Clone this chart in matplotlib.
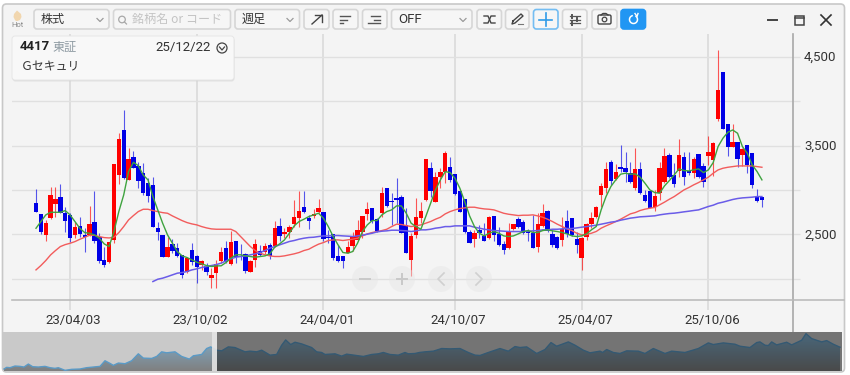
import matplotlib
matplotlib.use("Agg")
import matplotlib.pyplot as plt
import numpy as np
from matplotlib.colors import LinearSegmentedColormap
from matplotlib.patches import Circle, FancyBboxPatch, Rectangle
from matplotlib.transforms import ScaledTranslation

plt.rcParams['font.family'] = ['Roboto', 'Noto Sans CJK JP', 'DejaVu Sans']

# weekly candles, 4417 G-Security
highs = [3009,2728,2664,3031,3031,3069,2806,2739,2645,2694,
         2570,2821,2994,2514,2364,2420,3294,3646,3901,3470,
         3444,3320,3301,3133,3144,2645,2499,2476,2446,2401,
         2270,2251,2409,2270,2214,2176,2120,2214,
         2364,2421,2544,2428,2391,2289,2214,2447,2383,2402,
         2402,2657,2691,2571,2608,2889,2991,2991,2721,2784,
         2901,2758,2552,2507,2383,2259,2421,2533,2664,2709,
         2863,2796,2683,3032,3021,2964,3141,2946,2796,2514,
         2908,2871,3347,3321,3208,3246,3444,3377,3182,2994,
         2901,2552,2552,2608,2634,2709,2709,2589,2421,2634,
         2619,2702,2664,2559,2721,2739,2844,2777,2552,2484,
         2694,2777,2683,2533,2469,2627,2758,2822,
         3078,3321,3340,3295,3509,3434,3314,3471,3318,3002,
         2995,3002,3318,3471,3415,3302,3580,3434,3434,3377,
         3404,3310,3614,3546,4577,4330,3741,3745,3546,3471,
         3509,3415,3010,2927]
lows = [2758,2503,2431,2671,2701,2739,2533,2420,2458,2476,
        2308,2484,2409,2176,2139,2176,2401,3069,3121,3114,
        3245,3020,2945,2870,2581,2439,2244,2244,2296,2251,
        2008,2071,2158,1951,2101,2045,1895,1895,
        2177,2177,2158,2177,2214,2064,2072,2132,2259,2282,
        2222,2357,2421,2458,2458,2589,2589,2739,2563,2683,
        2739,2428,2402,2214,2188,2121,2289,2319,2421,2458,
        2664,2627,2533,2694,2814,2608,2627,2514,2297,2027,
        2458,2627,2882,2927,2871,3021,3077,3096,2946,2758,
        2522,2402,2357,2458,2421,2447,2421,2372,2282,2334,
        2552,2578,2507,2421,2346,2308,2589,2533,2364,2338,
        2372,2477,2484,2289,2102,2439,2571,2683,
        2815,2965,3059,3115,3209,3096,3085,3002,2958,2871,
        2796,2759,2890,3077,3134,3040,3152,3059,3171,3134,
        3134,3032,3284,3160,3779,3685,3385,3482,3265,3276,
        3197,3029,2871,2804]
opens = [2851,2728,2495,2690,2844,2926,2739,2716,2495,2596,
         2495,2495,2645,2476,2214,2195,2439,3170,3676,3114,
         3376,3271,3196,3076,3054,2570,2499,2244,2394,2353,
         2270,2083,2326,2259,2158,2150,2015,2064,
         2203,2353,2169,2428,2259,2282,2072,2214,2319,2308,
         2383,2372,2597,2503,2533,2616,2687,2814,2691,2709,
         2751,2758,2477,2507,2259,2259,2297,2372,2439,2533,
         2732,2796,2672,2739,3021,2878,2916,2927,2608,2214,
         2496,2683,2889,3246,2871,3144,3208,3264,3182,2994,
         2901,2533,2447,2552,2484,2458,2709,2507,2394,2346,
         2559,2672,2638,2544,2522,2364,2597,2766,2507,2469,
         2439,2653,2683,2451,2233,2477,2616,2702,
         2946,3021,3318,3126,3265,3246,3190,3021,3235,2946,
         2991,2815,2972,3089,3392,3171,3216,3374,3216,3190,
         3404,3272,3389,3340,3797,4330,3741,3490,3546,3396,
         3509,3415,2927,2927]
closes = [2758,2533,2634,2941,2896,2739,2656,2458,2589,2506,
          2476,2615,2428,2206,2158,2413,3294,3571,3140,3346,
          3245,3103,2971,2934,2581,2525,2251,2364,2319,2259,
          2038,2240,2195,2139,2203,2083,2038,2169,
          2308,2188,2417,2241,2244,2094,2196,2394,2271,2368,
          2259,2571,2488,2526,2582,2694,2762,2751,2653,2732,
          2796,2447,2458,2233,2196,2203,2357,2484,2552,2709,
          2788,2657,2544,2972,2822,2867,2893,2522,2297,2484,
          2694,2769,3347,2994,3144,3208,3414,3114,2953,2758,
          2533,2409,2514,2514,2432,2702,2496,2383,2327,2541,
          2616,2589,2514,2522,2353,2616,2739,2544,2383,2346,
          2567,2503,2496,2383,2458,2619,2687,2807,
          3051,3235,3104,3209,3239,3201,3089,3235,2972,2882,
          2796,2935,3246,3385,3145,3066,3392,3145,3190,3347,
          3145,3096,3430,3527,4127,3689,3482,3539,3347,3464,
          3284,3059,2879,2890]

# moving averages, one value per week
ma_short = [2570,2645,2720,2750,2750,2750,2769,2720,2645,2570,
            2521,2514,2495,2458,2394,2364,2533,2758,2945,3208,
            3313,3275,3170,3114,2926,2776,2626,2495,2401,2308,
            2259,2240,2214,2188,2169,2150,2139,2146,
            2147,2184,2233,2271,2271,2259,2252,2244,2252,2259,
            2282,2357,2394,2439,2514,2597,2646,2672,2702,2721,
            2739,2683,2589,2477,2383,2297,2289,2308,2402,2533,
            2608,2657,2657,2721,2758,2777,2822,
            2822,2739,2627,2589,2559,2702,2852,3002,3114,3208,
            3197,3133,3021,2871,2709,2589,2514,2484,2514,2533,
            2514,2484,2477,2484,2507,2533,2544,2522,2522,2544,
            2552,2541,2533,2522,2507,2484,2477,2484,2507,2552,
            2590,2777,2927,3040,3115,3179,3190,3179,3182,3145,
            3077,3002,2972,2965,3047,3107,3171,3239,3220,3216,
            3227,3239,3197,3227,3310,3490,3584,3651,3677,3640,
            3490,3415,3284,3209,3115]
ma_mid = [2101,2150,2206,2270,2319,2364,2386,2401,2420,2446,
          2469,2491,2491,2476,2465,2461,2469,2521,2589,2664,
          2713,2758,2784,2784,2769,2758,2746,2739,2709,2683,
          2656,2634,2619,2608,2589,2574,2563,2559,
          2559,2559,2559,2533,2477,2421,2364,2319,2289,2271,
          2259,2252,2252,2259,2271,2282,2297,2319,2334,2364,
          2391,2409,2432,2439,2439,2432,2439,2447,2458,2484,
          2507,2522,2533,2544,2559,2589,2616,
          2612,2601,2589,2597,2608,2627,2646,2672,2694,2732,
          2758,2777,2792,2799,2807,2807,2796,2788,2784,2777,
          2758,2739,2728,2721,2713,2717,2717,2721,2709,2694,
          2672,2646,2616,2589,2563,2544,2514,2496,2500,2514,
          2534,2571,2597,2620,2646,2672,2702,2732,2747,2770,
          2785,2796,2804,2834,2864,2897,2927,2965,3002,3029,
          3059,3085,3115,3145,3190,3227,3246,3257,3265,3272,
          3272,3272,3272,3265,3257]
ma_long_start = 24  # the long average only begins at this week
ma_long = [1970,1996,2008,2026,2045,2064,2071,2083,2101,2113,
           2128,2139,2150,2161,
           2177,2203,2226,2244,2252,2259,2271,2282,2297,2319,
           2346,2364,2383,2402,2421,2432,2447,2458,2466,2469,
           2477,2484,2484,2488,2488,2484,2481,2477,2484,2492,
           2503,2514,2529,2537,2541,2548,2548,
           2544,2541,2533,2541,2552,2552,2559,2571,2578,2589,
           2589,2597,2597,2597,2597,2582,2571,2559,2552,2544,
           2541,2537,2533,2533,2533,2533,2537,2541,2544,2552,
           2552,2559,2559,2563,2567,2567,2574,2582,2589,2597,
           2605,2616,2627,2639,2646,2661,2672,2684,2691,2699,
           2702,2706,2710,2721,2729,2736,2740,2747,2755,2762,
           2770,2777,2796,2815,2830,2852,2864,2879,2894,2905,
           2912,2916,2920,2927,2927]

tick_weeks = [7, 33, 59, 86, 112, 138]
tick_labels = ['23/04/03', '23/10/02', '24/04/01', '24/10/07', '25/04/07', '25/10/06']
price_grid = [2000, 2500, 3000, 3500, 4000, 4500]
price_labels = ['', '2,500', '', '3,500', '', '4,500']

# navigator strip at the bottom, long history of the close
nav_t = [12,20,30,45,60,72,85,98,115,135,150,165,175,195,215,240,260,280,300,315,
         330,340,355,375,395,415,430,455,470,485,500,525,545,568,580,605,620,632,650,665,
         685,705,735,750,770,785,810,830,845,857,872,885,905,935,950,965,975,1005,1025,1040,
         1070,1090,1115,1135,1150,1170,1195,1215,1225,1245,1258,
         1275,1300,1325,1350,1380,1405,1425,1440,1465,1500,1525,1545,1560,1580,1610,1635,1653,1670,1705,1725,
         1750,1770,1800,1808,1820,1840,1860,1880,1915,1935,1960,1995,2015,2055,2095,2125,2140,2170,2205,2220,
         2250,2270,2280,2295,2305,2315,2330,2360,2375,2405,2418,2435,2450,2465,2480,2500,2520]
nav_v = [6,11,10,15,14,12,21,13,12,14,10,8,10,2,5,6,10,12,14,31,
         23,17,24,22,31,52,39,38,44,58,55,58,44,36,46,50,68,73,63,61,
         73,71,58,60,58,63,48,50,78,94,80,87,82,71,58,56,50,52,45,51,
         47,44,50,52,56,50,48,56,52,53,56,
         58,60,68,67,68,56,48,47,56,68,60,74,71,73,53,65,86,75,88,78,
         63,55,60,56,65,56,53,61,60,53,68,53,60,56,68,85,80,85,81,75,
         71,86,88,78,77,88,79,87,79,93,113,98,93,88,92,81,72]

fig = plt.figure(figsize=(8.5, 3.75), dpi=100, facecolor='white')


def axes_px(x0, y0, x1, y1, **kw):
    return fig.add_axes([x0 / 850, 1 - y1 / 375, (x1 - x0) / 850, (y1 - y0) / 375], **kw)


def ui_axes(z):
    a = axes_px(0, 0, 850, 375, zorder=z)
    a.set_xlim(0, 850)
    a.set_ylim(375, 0)
    a.axis('off')
    return a


def button(a, x0, x1, edge='#d6d6d6', face='#f6f6f6', y0=9.5, y1=29, lw=1.2):
    a.add_patch(FancyBboxPatch((x0, y0), x1 - x0, y1 - y0, boxstyle='round,pad=0,rounding_size=3',
                               fc=face, ec=edge, lw=lw))


def chevron(a, x, y=20):
    a.plot([x - 3, x, x + 3], [y - 1.5, y + 1.5, y - 1.5], color='#9a9a9a', lw=0.9)


# window frame
bg = ui_axes(0)
bg.add_patch(FancyBboxPatch((2.5, 4), 842, 368, boxstyle='round,pad=0,rounding_size=4',
                            fc='#f4f4f4', ec='#c8c8c8', lw=1.2))
# the axis lines run on past the plot area
bg.plot([793, 844], [300, 300], color='#bcbcbc', lw=1.2)
bg.plot([793, 793], [300, 332], color='#a8a8a8', lw=1.2)

# price chart
weeks = np.arange(len(closes))
ax = axes_px(12, 34, 793, 300, zorder=1)
ax.patch.set_alpha(0)
ax.set_xlim(-4.926, 155.38)
ax.set_ylim(1762, 4758)
for s in ['top', 'left']:
    ax.spines[s].set_visible(False)
ax.spines['bottom'].set_color('#bcbcbc')
ax.spines['bottom'].set_linewidth(1.2)
ax.spines['right'].set_color('#a8a8a8')
ax.spines['right'].set_linewidth(1.2)

ax.set_axisbelow(True)
ax.grid(True, axis='y', color='#e0e0e0', lw=1.0)
ax.grid(True, axis='x', color='#d8d8d8', lw=1.1)
ax.set_xticks(tick_weeks)
ax.set_xticklabels(tick_labels, fontsize=9.5, color='#333333')
ax.set_yticks(price_grid)
ax.yaxis.tick_right()
ax.set_yticklabels(price_labels, fontsize=9.5, color='#333333')
ax.tick_params(axis='x', length=7, width=1.1, color='#d8d8d8', pad=3)
ax.tick_params(axis='y', length=5, width=1.0, color='#e0e0e0', pad=3)
shift = ScaledTranslation(3.5 / 100, 0, fig.dpi_scale_trans)
for lab in ax.get_xticklabels():
    lab.set_transform(lab.get_transform() + shift)
shift_y = ScaledTranslation(0, 1 / 100, fig.dpi_scale_trans)
for lab in ax.get_yticklabels():
    lab.set_transform(lab.get_transform() + shift_y)

up = np.array(closes) >= np.array(opens)
colors = np.where(up, '#ff0000', '#0000e6')
body_low = np.minimum(opens, closes)
body_h = np.abs(np.array(closes) - np.array(opens))
ax.vlines(weeks, lows, highs, colors=colors, lw=0.8, alpha=0.65, zorder=3)
ax.bar(weeks, body_h, bottom=body_low, width=0.9, color=colors, lw=0, zorder=4)

ax.plot(weeks, ma_mid, color='#f25c5c', lw=1.0, zorder=5)
ax.plot(weeks[ma_long_start:], ma_long, color='#6a5ce8', lw=1.1, zorder=5)
ax.plot(weeks, ma_short, color='#3fa33f', lw=1.0, zorder=6)

# navigator
nav = axes_px(3, 332, 842, 371, zorder=1)
nav.set_xlim(9, 2526)
nav.set_ylim(0, 118)
nav.axis('off')
nav.add_patch(Rectangle((9, 0), 2517, 118, fc='#c9c9c9', ec='none', zorder=0))
grad_cmap = LinearSegmentedColormap.from_list('nav', ['#808080', '#7fb2d4'])
poly = nav.fill_between(nav_t, nav_v, 0, color='none')
img = nav.imshow(np.linspace(0, 1, 64).reshape(-1, 1), cmap=grad_cmap, origin='lower', aspect='auto',
                 extent=(9, 2526, 0, 113), zorder=1)
img.set_clip_path(poly.get_paths()[0], transform=nav.transData)
nav.set_xlim(9, 2526)
nav.set_ylim(0, 118)
nav.plot(nav_t, nav_v, color='#5a9ac6', lw=1.0, zorder=2)
nav.add_patch(Rectangle((651, 0), 1875, 118, fc='black', alpha=0.42, ec='none', zorder=3))
nav.add_patch(Rectangle((636, 0), 15, 118, fc='#e4e4e4', alpha=0.9, ec='none', zorder=3))

# toolbar and overlays
ui = ui_axes(3)
jp = ['Noto Sans CJK JP', 'DejaVu Sans']

ui.fill([17, 14, 13.5, 15, 16, 17.5, 20, 21.5, 21, 17], [10.5, 14, 17, 20, 21, 21, 20, 17, 14, 10.5],
        color='#f1d6ae', lw=0)
ui.text(17.5, 25, 'Hot', fontsize=5.5, color='#8a8a8a', ha='center', va='center')

button(ui, 34, 109)
ui.text(41, 19, '株式', fontsize=8.7, family=jp, color='#333333', va='center')
chevron(ui, 100)
button(ui, 113.5, 230.5)
ui.add_patch(Circle((122, 19.5), 3.3, fc='none', ec='#a8a8a8', lw=0.9))
ui.plot([124.5, 126.5], [22, 24], color='#a8a8a8', lw=0.9)
ui.text(132, 19, '銘柄名 or コード', fontsize=8.7, family=jp, color='#c4c4c4', va='center')
button(ui, 235, 299.5)
ui.text(242, 19, '週足', fontsize=8.7, family=jp, color='#333333', va='center')
chevron(ui, 290)

button(ui, 304, 329)
ui.plot([312, 322], [24, 15], color='#444444', lw=1.0)
ui.plot([315, 322, 322], [15, 15, 22], color='#444444', lw=1.0)
button(ui, 333, 358)
for x1, y in [(347, 16), (344, 19.5), (340, 23)]:
    ui.plot([340, x1 + 3], [y, y], color='#555555', lw=1.0)
button(ui, 362.5, 387)
for x0, y in [(371, 16), (374, 19.5), (368, 23)]:
    ui.plot([x0, 380], [y, y], color='#555555', lw=1.0)

button(ui, 391.5, 472)
ui.text(398, 19.5, 'OFF', fontsize=9.5, color='#333333', va='center')
chevron(ui, 463)

button(ui, 477, 501.5)
ui.plot([484, 488, 491, 495], [16, 16, 23, 23], color='#444444', lw=1.0)
ui.plot([484, 488, 491, 495], [23, 23, 16, 16], color='#444444', lw=1.0)
button(ui, 505.5, 529)
ui.plot([513, 521, 523, 515, 512, 513], [21, 14, 16, 23, 24, 21], color='#444444', lw=1.0)
ui.plot([518, 523], [24, 24], color='#777777', lw=0.8)
button(ui, 533.5, 558, edge='#74bdf2')
ui.plot([546, 546], [13, 26], color='#2f9be8', lw=1.2)
ui.plot([539, 552], [19.5, 19.5], color='#2f9be8', lw=1.2)
button(ui, 562.5, 587)
for y, xm in [(16, 572), (19.5, 577), (23, 572)]:
    ui.plot([570, 580], [y, y], color='#555555', lw=0.9)
    ui.plot([xm, xm], [y - 1.5, y + 1.5], color='#555555', lw=1.4)
button(ui, 592, 617)
ui.add_patch(FancyBboxPatch((598, 15), 13, 9, boxstyle='round,pad=0,rounding_size=1.5', fc='none', ec='#444444', lw=1.0))
ui.add_patch(Circle((604.5, 19.5), 2.3, fc='none', ec='#444444', lw=0.9))
ui.plot([601, 603, 606, 608], [15, 13.5, 13.5, 15], color='#444444', lw=1.0)
button(ui, 621, 645.5, edge='#2196f3', face='#2196f3')
ang = np.radians(np.arange(-50, 260, 10))
ui.plot(633.5 + 4 * np.cos(ang), 19.5 + 4 * np.sin(ang), color='white', lw=1.1)
ui.plot([635, 637, 638], [13.5, 16.5, 13.5], color='white', lw=1.0)

ui.plot([768, 777], [20, 20], color='#444444', lw=1.4)
ui.add_patch(Rectangle((795, 15.5), 9.5, 9, fc='none', ec='#444444', lw=1.1))
ui.plot([795, 804.5], [18, 18], color='#444444', lw=1.1)
ui.plot([821, 831], [15, 25], color='#333333', lw=1.2)
ui.plot([821, 831], [25, 15], color='#333333', lw=1.2)

# info card over the chart
ui.add_patch(FancyBboxPatch((12.5, 37.5), 222, 44, boxstyle='round,pad=0,rounding_size=3',
                            fc='#d4d4d4', ec='none', alpha=0.6))
ui.add_patch(FancyBboxPatch((12, 36), 222, 44, boxstyle='round,pad=0,rounding_size=3',
                            fc='#f8f8f8', ec='#e4e4e4', lw=0.6))
ui.text(19.5, 47, '4417', fontsize=9.5, fontweight='bold', color='#222222', va='center')
ui.text(52, 47, '東証', fontsize=8.7, family=jp, color='#8f9ba3', va='center')
ui.text(155, 47, '25/12/22', fontsize=9.5, color='#333333', va='center')
ui.add_patch(Circle((222, 48), 5, fc='none', ec='#444444', lw=0.9))
ui.plot([219.5, 222, 224.5], [47, 50, 47], color='#444444', lw=0.9)
ui.text(20.5, 67, 'Ｇセキュリ', fontsize=8.6, family=jp, color='#333333', va='center')

# zoom / pan buttons, faint on the chart
for cx in [365, 402, 441, 479]:
    ui.add_patch(Circle((cx, 279), 13, fc='#e6e6e6', ec='none', alpha=0.45))
ui.plot([360, 370], [279, 279], color='#c9c9c9', lw=1.4)
ui.plot([397, 407], [279, 279], color='#c9c9c9', lw=1.4)
ui.plot([402, 402], [274, 284], color='#c9c9c9', lw=1.4)
ui.plot([444, 438, 444], [273, 279, 285], color='#d0d0d0', lw=1.2)
ui.plot([476, 482, 476], [273, 279, 285], color='#d0d0d0', lw=1.2)

fig.savefig('out.png', dpi=100, facecolor='white')
